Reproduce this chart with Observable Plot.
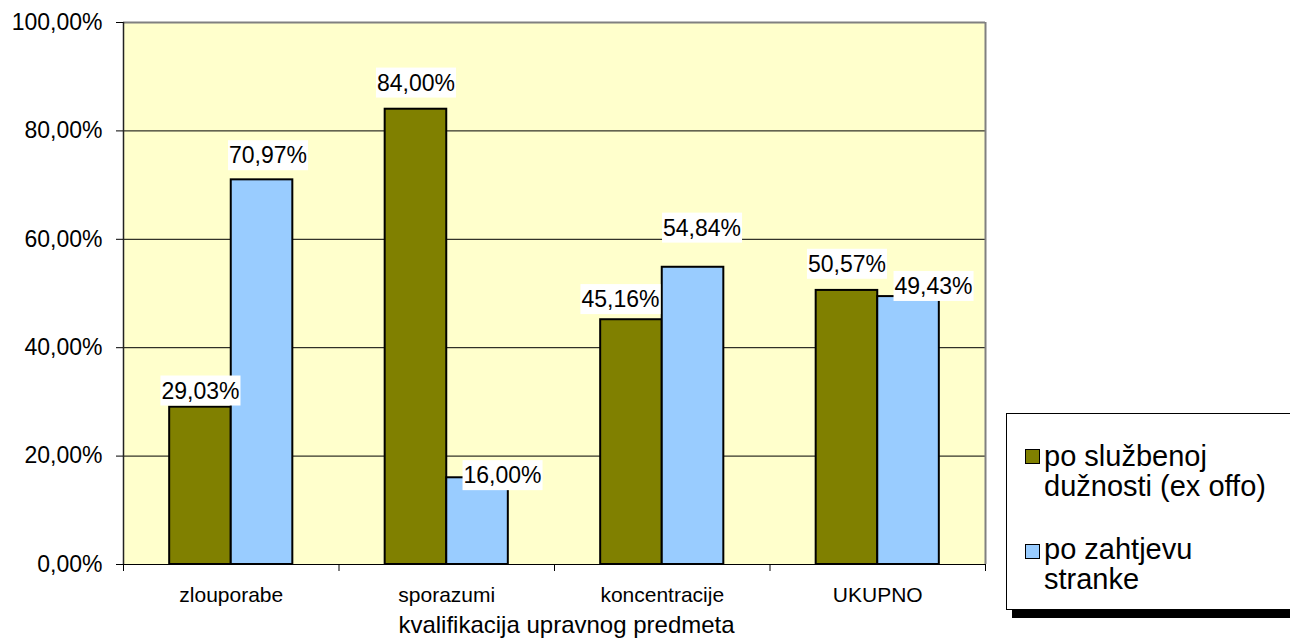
<!DOCTYPE html>
<html><head><meta charset="utf-8">
<script src="https://cdn.jsdelivr.net/npm/d3@7"></script>
<script src="https://cdn.jsdelivr.net/npm/@observablehq/plot@0.6"></script>
<style>
html,body{margin:0;padding:0;background:#fff;overflow:hidden;}
#wrap{position:relative;width:1290px;height:644px;overflow:hidden;font-family:"Liberation Sans",Arial,sans-serif;}
#legend{position:absolute;left:1006px;top:413px;width:330px;height:195px;border:1px solid #000;background:#fff;box-shadow:6px 8px 0 #000;}
.sw{position:absolute;left:18px;width:13px;height:13px;border:1.5px solid #000;}
.lt{position:absolute;left:37px;font-size:29px;line-height:30px;color:#000;white-space:nowrap;}
</style></head><body><div id="wrap"></div>
<script>
// ---- data ----
const categories = ["zlouporabe", "sporazumi", "koncentracije", "UKUPNO"];
const seriesNames = ["po službenoj dužnosti (ex offo)", "po zahtjevu stranke"];
const exOffo = [0.2903, 0.84, 0.4516, 0.5057];
const poZahtjevu = [0.7097, 0.16, 0.5484, 0.4943];
const yTicks = [0, 0.2, 0.4, 0.6, 0.8, 1];
const xTitle = "kvalifikacija upravnog predmeta";
const colors = ["#808000", "#99CCFF"];

const rows = categories.flatMap((c, i) => [
  {cat: c, i, s: 0, v: exOffo[i]},
  {cat: c, i, s: 1, v: poZahtjevu[i]}
]);

const pct = v => (v * 100).toFixed(2).replace(".", ",") + "%";
const barFrac = 1 / 3.5;            // Excel gap width 150%
const x1 = d => d.i + 0.75 * barFrac + d.s * barFrac;
const x2 = d => x1(d) + barFrac;
const xc = d => x1(d) + barFrac / 2;

// label nudges (px) mimicking the original label placement
const nudge = {
  "zlouporabe|0": [0, 8], "zlouporabe|1": [6, 0],
  "sporazumi|0": [0, -2], "sporazumi|1": [25, 22],
  "koncentracije|0": [-11, 4], "koncentracije|1": [9, -15],
  "UKUPNO|0": [0, -2], "UKUPNO|1": [25, 14]
};

const labelMarks = rows.map(d => {
  const n = nudge[d.cat + "|" + d.s];
  return Plot.text([d], {x: xc, y: "v", text: r => pct(r.v), dx: n[0], dy: -24 + n[1],
    fontSize: 23, fill: "#000"});
});

const chart = Plot.plot({
  width: 1290, height: 644,
  marginLeft: 123, marginRight: 305, marginTop: 22, marginBottom: 80,
  style: {fontFamily: '"Liberation Sans", Arial, sans-serif', background: "transparent", color: "#000"},
  x: {domain: [0, categories.length]},
  y: {domain: [0, 1]},
  color: {domain: seriesNames, range: colors},
  marks: [
    Plot.frame({fill: "#FFFFCC", stroke: null}),
    Plot.ruleY(yTicks.slice(1, -1), {stroke: "#000", strokeWidth: 1}),
    Plot.rectY(rows, {x1, x2, y1: 0, y2: "v", fill: d => seriesNames[d.s], stroke: "#000", strokeWidth: 2}),
    Plot.ruleY([1], {stroke: "#808080", strokeWidth: 2}),
    Plot.ruleX([categories.length], {stroke: "#808080", strokeWidth: 2}),
    Plot.ruleX([0], {stroke: "#222", strokeWidth: 1.5}),
    Plot.ruleY([0], {stroke: "#000", strokeWidth: 1}),
    Plot.axisY(yTicks, {tickSize: 7, tickPadding: 14, tickFormat: pct, fontSize: 23, label: null}),
    Plot.axisX(d3.range(categories.length + 1), {tickSize: 7, tickFormat: () => "", label: null}),
    Plot.axisX(categories.map((_, i) => i + 0.5), {tickSize: 0, tickPadding: 23,
      tickFormat: d => categories[Math.floor(d)], fontSize: 21, label: null}),
    ...labelMarks,
    Plot.text([xTitle], {frameAnchor: "bottom", text: d => d, dy: 68, dx: 12, fontSize: 24, fill: "#000"})
  ]
});

const wrap = document.getElementById("wrap");
wrap.appendChild(chart);

// white boxes behind data labels
const ns = "http://www.w3.org/2000/svg";
chart.querySelectorAll('g[aria-label="text"] text').forEach(t => {
  if (t.textContent === xTitle) return;
  const b = t.getBBox();
  const r = document.createElementNS(ns, "rect");
  r.setAttribute("x", b.x - 1);
  r.setAttribute("y", b.y + b.height / 2 - 15);
  r.setAttribute("width", b.width + 2);
  r.setAttribute("height", 30);
  r.setAttribute("fill", "#fff");
  r.setAttribute("stroke", "none");
  const tr = t.getAttribute("transform");
  if (tr) r.setAttribute("transform", tr);
  t.parentNode.insertBefore(r, t);
});

// legend
const legend = document.createElement("div");
legend.id = "legend";
const items = [
  {lines: ["po službenoj", "dužnosti (ex offo)"], sw: 35, txt: 27},
  {lines: ["po zahtjevu", "stranke"], sw: 130, txt: 120}
];
items.forEach((it, k) => {
  const sw = document.createElement("div");
  sw.className = "sw";
  sw.style.top = it.sw + "px";
  sw.style.background = colors[k];
  legend.appendChild(sw);
  const tx = document.createElement("div");
  tx.className = "lt";
  tx.style.top = it.txt + "px";
  tx.innerHTML = it.lines.join("<br>");
  legend.appendChild(tx);
});
wrap.appendChild(legend);
</script></body></html>
